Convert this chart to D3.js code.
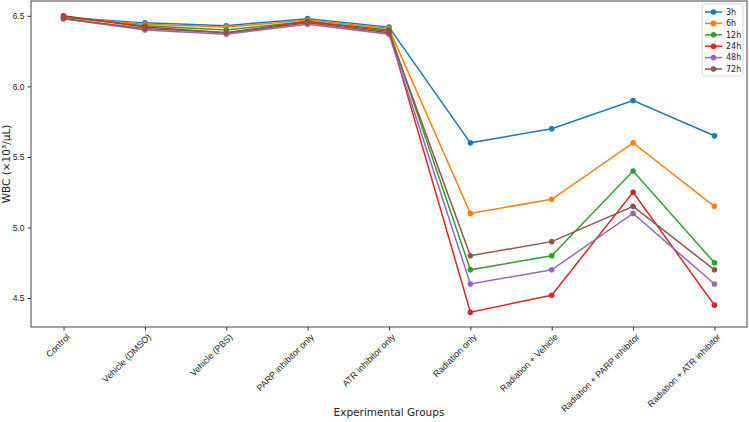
<!DOCTYPE html>
<html>
<head>
<meta charset="utf-8">
<script src="https://cdn.jsdelivr.net/npm/d3@7"></script>
<style>
  body { margin: 0; background: #fff; }
  svg { display: block; font-family: "DejaVu Sans", sans-serif; }
</style>
</head>
<body>
<div id="chart"></div>
<script>
// groupes et séries
const groups = ["Control", "Vehicle (DMSO)", "Vehicle (PBS)", "PARP inhibitor only", "ATR inhibitor only",
  "Radiation only", "Radiation + Vehicle", "Radiation + PARP inhibitor", "Radiation + ATR inhibitor"];
const seriesNames = ["3h", "6h", "12h", "24h", "48h", "72h"];
const colors = ["#1f77b4", "#ff7f0e", "#2ca02c", "#d62728", "#9467bd", "#8c564b"];
const wbc3h  = [6.49, 6.45, 6.43, 6.48, 6.42, 5.60, 5.70, 5.90, 5.65];
const wbc6h  = [6.49, 6.44, 6.42, 6.47, 6.41, 5.10, 5.20, 5.60, 5.15];
const wbc12h = [6.49, 6.43, 6.40, 6.46, 6.40, 4.70, 4.80, 5.40, 4.75];
const wbc24h = [6.50, 6.42, 6.38, 6.46, 6.39, 4.40, 4.52, 5.25, 4.45];
const wbc48h = [6.48, 6.40, 6.37, 6.44, 6.37, 4.60, 4.70, 5.10, 4.60];
const wbc72h = [6.48, 6.41, 6.38, 6.45, 6.38, 4.80, 4.90, 5.15, 4.70];
const yTicks = [4.5, 5.0, 5.5, 6.0, 6.5];

const series = [wbc3h, wbc6h, wbc12h, wbc24h, wbc48h, wbc72h];

const width = 749, height = 422;
const margin = { top: 1, right: 2, bottom: 95, left: 31 };

const svg = d3.select("#chart").append("svg")
  .attr("width", width)
  .attr("height", height);

// échelles
const x = d3.scaleLinear()
  .domain([-0.4, groups.length - 1 + 0.4])
  .range([margin.left, width - margin.right]);

const allVals = series.flat();
const yMin = d3.min(allVals), yMax = d3.max(allVals);
const pad = (yMax - yMin) * 0.05;
const y = d3.scaleLinear()
  .domain([yMin - pad, yMax + pad])
  .range([height - margin.bottom, margin.top]);

// axes
const xAxis = svg.append("g")
  .attr("transform", `translate(0, ${height - margin.bottom})`)
  .call(d3.axisBottom(x).tickValues(d3.range(groups.length)).tickFormat(i => groups[i]).tickSize(3.5).tickPadding(3));
xAxis.select(".domain").remove();
xAxis.selectAll("line").attr("stroke", "#333");
xAxis.selectAll("text")
  .attr("font-size", 9)
  .attr("fill", "#222")
  .attr("text-anchor", "end")
  .attr("dy", "0.6em")
  .attr("transform", "rotate(-45) translate(-3, 0)");

const yAxis = svg.append("g")
  .attr("transform", `translate(${margin.left}, 0)`)
  .call(d3.axisLeft(y).tickValues(yTicks).tickFormat(d3.format(".1f")).tickSize(3.5).tickPadding(3));
yAxis.select(".domain").remove();
yAxis.selectAll("line").attr("stroke", "#333");
yAxis.selectAll("text").attr("font-size", 8.5).attr("fill", "#222");

// cadre
svg.append("rect")
  .attr("x", margin.left)
  .attr("y", margin.top)
  .attr("width", width - margin.left - margin.right)
  .attr("height", height - margin.top - margin.bottom)
  .attr("fill", "none")
  .attr("stroke", "#444")
  .attr("stroke-width", 1);

// titres des axes
svg.append("text")
  .attr("x", (margin.left + width - margin.right) / 2)
  .attr("y", 416)
  .attr("text-anchor", "middle")
  .attr("font-size", 10.5)
  .attr("fill", "#222")
  .text("Experimental Groups");

svg.append("text")
  .attr("transform", `translate(10, ${(margin.top + height - margin.bottom) / 2}) rotate(-90)`)
  .attr("text-anchor", "middle")
  .attr("font-size", 10.5)
  .attr("fill", "#222")
  .text("WBC (×10³/μL)");

// lignes
const line = d3.line()
  .x((d, i) => x(i))
  .y(d => y(d));

series.forEach((vals, s) => {
  const g = svg.append("g");
  g.append("path")
    .datum(vals)
    .attr("fill", "none")
    .attr("stroke", colors[s])
    .attr("stroke-width", 1.5)
    .attr("d", line);
  g.selectAll("circle")
    .data(vals)
    .join("circle")
    .attr("cx", (d, i) => x(i))
    .attr("cy", d => y(d))
    .attr("r", 2.8)
    .attr("fill", colors[s]);
});

// légende
const lg = svg.append("g").attr("transform", "translate(702, 4)");
lg.append("rect")
  .attr("width", 41)
  .attr("height", 72)
  .attr("rx", 2)
  .attr("fill", "#fff")
  .attr("fill-opacity", 0.8)
  .attr("stroke", "#ccc")
  .attr("stroke-width", 0.8);
seriesNames.forEach((name, i) => {
  const yy = 8 + i * 11.4;
  lg.append("line")
    .attr("x1", 3).attr("x2", 20)
    .attr("y1", yy).attr("y2", yy)
    .attr("stroke", colors[i])
    .attr("stroke-width", 1.5);
  lg.append("circle")
    .attr("cx", 11.5).attr("cy", yy).attr("r", 2.8)
    .attr("fill", colors[i]);
  lg.append("text")
    .attr("x", 24).attr("y", yy)
    .attr("dy", "0.35em")
    .attr("font-size", 8)
    .attr("fill", "#222")
    .text(name);
});
</script>
</body>
</html>
